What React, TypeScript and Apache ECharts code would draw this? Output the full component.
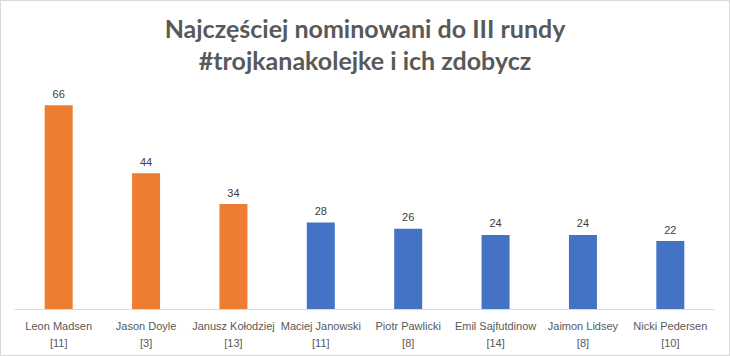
import React, { useEffect, useRef } from "react";
import * as echarts from "echarts";

const players = [
  "Leon Madsen",
  "Jason Doyle",
  "Janusz Kołodziej",
  "Maciej Janowski",
  "Piotr Pawlicki",
  "Emil Sajfutdinow",
  "Jaimon Lidsey",
  "Nicki Pedersen",
];
const brackets = [11, 3, 13, 11, 8, 14, 8, 10];
const values = [66, 44, 34, 28, 26, 24, 24, 22];
const highlighted = [true, true, true, false, false, false, false, false];
const titleLines = ["Najczęściej nominowani do III rundy", "#trojkanakolejke i ich zdobycz"];

const ORANGE = "#ED7D31";
const BLUE = "#4472C4";

export default function App() {
  const ref = useRef<HTMLDivElement>(null);
  useEffect(() => {
    document.body.style.margin = "0";
    if (!ref.current) return;
    const chart = echarts.init(ref.current, null, { renderer: "svg" });
    const categories = players.map((p, i) => `${p}\n[${brackets[i]}]`);
    chart.setOption({
      animation: false,
      backgroundColor: "#fff",
      title: {
        text: titleLines.join("\n"),
        left: "center",
        top: 6,
        textStyle: {
          fontFamily: "Lato",
          fontWeight: "bold",
          fontSize: 25,
          color: "#595959",
          lineHeight: 32,
        },
      },
      grid: { left: 14, right: 15, top: 92, bottom: 46, containLabel: false },
      xAxis: {
        type: "category",
        data: categories,
        axisLine: { show: true, lineStyle: { color: "#d9d9d9", width: 1 } },
        axisTick: { show: false },
        axisLabel: {
          interval: 0,
          color: "#595959",
          fontFamily: "Liberation Sans",
          fontSize: 11,
          lineHeight: 17,
          margin: 8,
        },
      },
      yAxis: {
        type: "value",
        min: 0,
        max: 70,
        show: false,
        splitLine: { show: false },
      },
      series: [
        {
          type: "bar",
          data: values.map((v, i) => ({
            value: v,
            itemStyle: { color: highlighted[i] ? ORANGE : BLUE },
          })),
          barWidth: 28,
          label: {
            show: true,
            position: "top",
            distance: 6,
            color: "#404040",
            fontFamily: "Liberation Sans",
            fontSize: 11,
          },
        },
      ],
    });
    return () => chart.dispose();
  }, []);
  return (
    <div
      ref={ref}
      style={{
        position: "absolute",
        left: 0,
        top: 0,
        width: 730,
        height: 356,
        boxSizing: "border-box",
        border: "1px solid #d9d9d9",
      }}
    />
  );
}
